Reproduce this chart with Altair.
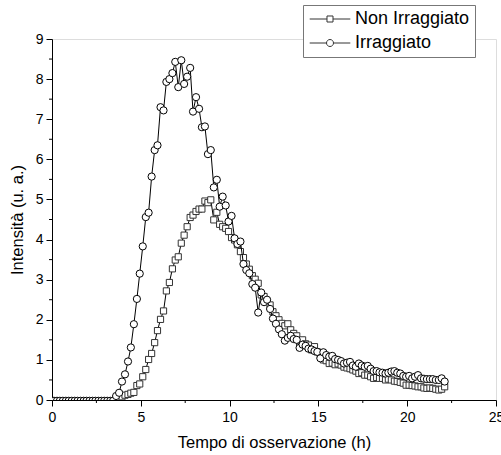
import altair as alt
import pandas as pd

# Sampling times (h)
times = [
    0.11, 0.28, 0.44, 0.61, 0.78, 0.94, 1.11, 1.28, 1.44, 1.61, 1.78, 1.94,
    2.11, 2.28, 2.44, 2.61, 2.78, 2.94, 3.11, 3.28, 3.44, 3.61, 3.78, 3.94,
    4.11, 4.28, 4.44, 4.61, 4.78, 4.94, 5.11, 5.28, 5.44, 5.61, 5.78, 5.94,
    6.11, 6.28, 6.44, 6.61, 6.78, 6.94, 7.11, 7.28, 7.44, 7.61, 7.78, 7.94,
    8.11, 8.28, 8.44, 8.61, 8.78, 8.94, 9.11, 9.28, 9.44, 9.61, 9.78, 9.94,
    10.11, 10.28, 10.44, 10.61, 10.78, 10.94, 11.11, 11.28, 11.44, 11.61, 11.78, 11.94,
    12.11, 12.28, 12.44, 12.61, 12.78, 12.94, 13.11, 13.28, 13.44, 13.61, 13.78, 13.94,
    14.11, 14.28, 14.44, 14.61, 14.78, 14.94, 15.11, 15.28, 15.44, 15.61, 15.78, 15.94,
    16.11, 16.28, 16.44, 16.61, 16.78, 16.94, 17.11, 17.28, 17.44, 17.61, 17.78, 17.94,
    18.11, 18.28, 18.44, 18.61, 18.78, 18.94, 19.11, 19.28, 19.44, 19.61, 19.78, 19.94,
    20.11, 20.28, 20.44, 20.61, 20.78, 20.94, 21.11, 21.28, 21.44, 21.61, 21.78, 21.94,
    22.11,
]

non_irraggiato = [
    -0.02, -0.02, -0.02, -0.02, -0.02, -0.02, -0.02, -0.02, -0.02, -0.02, -0.02, -0.02,
    -0.02, -0.02, -0.02, -0.02, -0.02, -0.02, -0.02, -0.02, -0.02, -0.02, 0.05, 0.08,
    0.12, 0.14, 0.17, 0.19, 0.36, 0.40, 0.58, 0.76, 1.01, 1.16, 1.43, 1.73,
    2.01, 2.22, 2.72, 2.93, 3.27, 3.49, 3.57, 3.91, 4.11, 4.32, 4.55, 4.61,
    4.70, 4.76, 4.76, 4.96, 4.92, 4.99, 4.49, 4.68, 4.38, 4.32, 4.28, 4.20,
    4.05, 3.99, 3.87, 3.70, 3.55, 3.39, 3.26, 3.10, 3.01, 2.91, 2.62, 2.58,
    2.45, 2.37, 2.20, 2.10, 2.00, 1.91, 1.85, 1.90, 1.75, 1.66, 1.60, 1.43,
    1.50, 1.40, 1.37, 1.25, 1.33, 1.20, 1.10, 1.00, 0.98, 0.91, 0.92, 0.88,
    0.90, 0.87, 0.82, 0.80, 0.78, 0.75, 0.72, 0.66, 0.68, 0.62, 0.62, 0.58,
    0.54, 0.56, 0.54, 0.54, 0.50, 0.52, 0.50, 0.47, 0.46, 0.44, 0.42, 0.37,
    0.37, 0.36, 0.35, 0.33, 0.33, 0.30, 0.29, 0.30, 0.29, 0.27, 0.25, 0.27,
    0.33,
]

irraggiato = [
    -0.02, -0.02, -0.02, -0.02, -0.02, -0.02, -0.02, -0.02, -0.02, -0.02, -0.02, -0.02,
    -0.02, -0.02, -0.02, -0.02, -0.02, -0.02, -0.02, -0.02, -0.02, 0.10, 0.18, 0.46,
    0.64, 0.96, 1.31, 1.89, 2.52, 3.15, 3.83, 4.56, 4.67, 5.57, 6.23, 6.35,
    7.30, 7.22, 7.93, 8.00, 8.15, 8.43, 7.80, 8.47, 7.88, 8.06, 8.28, 7.19,
    7.55, 7.26, 6.80, 6.82, 6.13, 6.23, 5.30, 5.49, 4.82, 5.07, 4.85, 4.45,
    4.59, 4.03, 3.89, 3.95, 3.39, 3.24, 3.16, 2.89, 2.80, 2.18, 2.68, 2.44,
    2.50, 2.27, 2.03, 1.90, 1.76, 1.64, 1.48, 1.55, 1.60, 1.52, 1.50, 1.30,
    1.38, 1.35, 1.28, 1.26, 1.22, 1.20, 1.04, 1.19, 1.12, 1.08, 1.10, 1.02,
    1.00, 0.97, 0.91, 0.93, 0.95, 0.86, 0.83, 0.91, 0.86, 0.83, 0.85, 0.78,
    0.72, 0.72, 0.69, 0.68, 0.66, 0.68, 0.71, 0.72, 0.68, 0.66, 0.60, 0.58,
    0.60, 0.54, 0.58, 0.62, 0.54, 0.53, 0.52, 0.52, 0.52, 0.50, 0.50, 0.54,
    0.46,
]

series_names = ["Non Irraggiato", "Irraggiato"]
x_ticks = [0, 5, 10, 15, 20, 25]
x_minor = [2.5, 7.5, 12.5, 17.5, 22.5]
y_ticks = [0, 1, 2, 3, 4, 5, 6, 7, 8, 9]
y_minor = [0.5, 1.5, 2.5, 3.5, 4.5, 5.5, 6.5, 7.5, 8.5]

FONT = "Liberation Sans"
W, H = 444, 361

df = pd.DataFrame({
    "t": times * 2,
    "v": non_irraggiato + irraggiato,
    "serie": [series_names[0]] * len(times) + [series_names[1]] * len(times),
})

xs = alt.Scale(domain=[0, 25], nice=False, zero=False)
ys = alt.Scale(domain=[0, 9], nice=False, zero=False)

x_enc = alt.X("t:Q", scale=xs, axis=alt.Axis(
    values=x_ticks, title="Tempo di osservazione (h)", grid=False,
    domainColor="black", domainWidth=1, tickColor="black", tickSize=6, tickWidth=1,
    labelFont=FONT, labelFontSize=14, labelColor="black", labelPadding=4,
    titleFont=FONT, titleFontSize=16.5, titleFontWeight="normal", titleColor="black",
    titlePadding=10, labelFlush=False))
y_enc = alt.Y("v:Q", scale=ys, axis=alt.Axis(
    values=y_ticks, title="Intensità (u. a.)", grid=False,
    domainColor="black", domainWidth=1, tickColor="black", tickSize=6, tickWidth=1,
    labelFont=FONT, labelFontSize=14, labelColor="black", labelPadding=3,
    titleFont=FONT, titleFontSize=16.5, titleFontWeight="normal", titleColor="black",
    titlePadding=10, labelFlush=False))

base = alt.Chart(df)

def series_layers(name, shape, size, stroke):
    d = base.transform_filter(alt.datum.serie == name)
    line = d.mark_line(color="black", strokeWidth=1, clip=True).encode(x=x_enc, y=y_enc)
    pts = d.mark_point(shape=shape, size=size, fill="white", fillOpacity=1,
                       stroke=stroke, strokeWidth=1, opacity=1, clip=True).encode(x=x_enc, y=y_enc)
    return [line, pts]

sq_path = "M-2.9,0H-0.43M0.43,0H2.9M-0.43,-0.43H0.43V0.43H-0.43Z"
ci_path = "M-2.9,0H-0.5M0.5,0H2.9M0.5,0A0.5,0.5 0 1,1 -0.5,0A0.5,0.5 0 1,1 0.5,0Z"

legend_layer = base.transform_filter("false").mark_point(opacity=1).encode(
    x=x_enc, y=y_enc,
    shape=alt.Shape("serie:N", scale=alt.Scale(domain=series_names, range=[sq_path, ci_path]),
                    legend=alt.Legend(
                        title=None, orient="none", legendX=251, legendY=-34,
                        symbolSize=196, symbolStrokeColor="#333", symbolFillColor="white",
                        symbolStrokeWidth=1, symbolOpacity=1, symbolOffset=13,
                        labelOffset=16, labelFont=FONT, labelFontSize=18, labelColor="black",
                        labelLimit=300, strokeColor="#777", fillColor="white",
                        padding=5, rowPadding=6)),
)

minor_x = alt.Chart(pd.DataFrame({"m": x_minor})).mark_rule(color="black", strokeWidth=1).encode(
    x=alt.X("m:Q", scale=xs), y=alt.value(H), y2=alt.value(H + 3))
minor_y = alt.Chart(pd.DataFrame({"m": y_minor})).mark_rule(color="black", strokeWidth=1).encode(
    y=alt.Y("m:Q", scale=ys), x=alt.value(0), x2=alt.value(-3))

layers = series_layers(series_names[0], "square", 38, "#333") + \
         series_layers(series_names[1], "circle", 52, "black")

chart = alt.layer(*layers, legend_layer, minor_x, minor_y).properties(
    width=W, height=H,
    autosize=alt.AutoSizeParams(type="none"),
    padding={"left": 52, "top": 39, "right": 5, "bottom": 55},
).configure_view(strokeWidth=0).configure(background="white")

chart.save("out.html", embed_options={"renderer": "svg", "actions": False})
